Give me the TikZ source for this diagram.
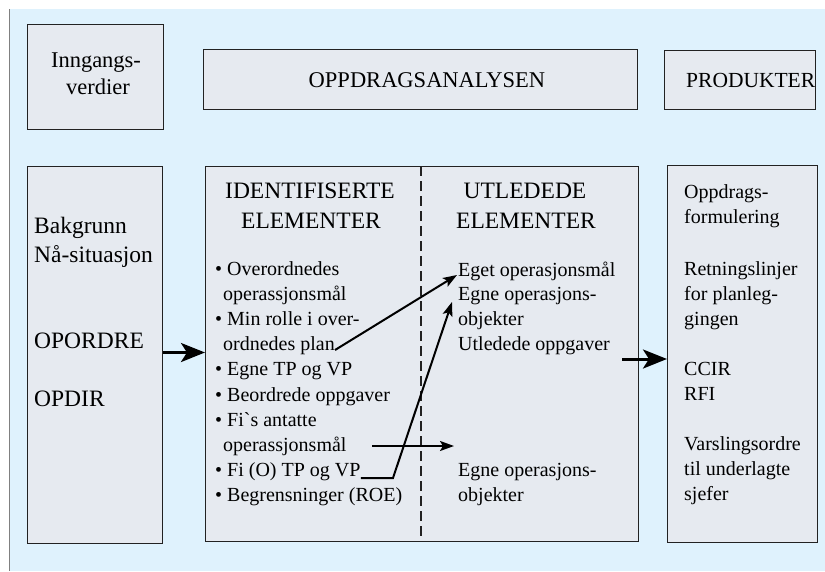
\documentclass[tikz,border=0pt]{standalone}
\usepackage{fontspec}
\setmainfont{Liberation Serif}
\usetikzlibrary{arrows.meta}
\definecolor{bgblue}{RGB}{223,242,253}
\definecolor{boxfill}{RGB}{230,234,240}
\definecolor{boxline}{RGB}{34,34,34}
\begin{document}
\begin{tikzpicture}[x=1pt,y=-1pt,
  box/.style={draw=boxline, fill=boxfill, line width=1.3pt, anchor=north west, inner sep=0pt},
  txt/.style={inner sep=0pt, anchor=base west, font=\fontsize{20}{24}\selectfont},
  bigtxt/.style={inner sep=0pt, anchor=base west, font=\fontsize{23.5}{27}\selectfont},
  headtxt/.style={inner sep=0pt, anchor=base, font=\fontsize{22.5}{27}\selectfont},
  coltxt/.style={inner sep=0pt, anchor=base, font=\fontsize{23.5}{27}\selectfont},
  divider/.style={draw=boxline, line width=1.5pt, dash pattern=on 10pt off 5pt},
  bigarrow/.style={line width=3pt, -{Stealth[length=24pt,width=19pt,inset=6pt]}},
  thinarrow/.style={line width=2pt, -{Stealth[length=14pt,width=10pt,inset=3pt]}}]
\useasboundingbox (0,0) rectangle (825,571);
\fill[white] (0,0) rectangle (825,571);
\fill[bgblue] (10,9) rectangle (825,571);
\draw[gray, line width=1pt] (9.5,9) -- (9.5,571);

% boxes
\node[box, minimum width=136pt, minimum height=105pt] (inn) at (27,24) {};
\node[box, minimum width=434pt, minimum height=60pt] (opp) at (203,49) {};
\node[box, minimum width=151pt, minimum height=59pt] (prod) at (664,50) {};
\node[box, minimum width=135pt, minimum height=377pt] (lbox) at (27,166) {};
\node[box, minimum width=433pt, minimum height=375pt] (mbox) at (205,166) {};
\node[box, minimum width=150pt, minimum height=377pt] (rbox) at (667,165) {};

\coordinate (dtop) at (421,166);
\coordinate (dbot) at (421,541);
\draw[divider] (dtop) -- (dbot);

% headings
\node[headtxt] (inn1) at (96,67) {Inngangs-};
\node[headtxt] (inn2) at (98,94) {verdier};
\node[headtxt] (opptxt) at (427,87) {OPPDRAGSANALYSEN};
\node[headtxt, anchor=base west, font=\fontsize{21.5}{26}\selectfont] (prodtxt) at (686,87) {PRODUKTER};
\node[coltxt] (id1) at (310,198) {IDENTIFISERTE};
\node[coltxt] (id2) at (311,228) {ELEMENTER};
\node[coltxt] (ut1) at (525,198) {UTLEDEDE};
\node[coltxt] (ut2) at (526,228) {ELEMENTER};

% left column
\node[bigtxt] (l1) at (34,233) {Bakgrunn};
\node[bigtxt] (l2) at (34,262) {Nå-situasjon};
\node[bigtxt] (l3) at (34,348) {OPORDRE};
\node[bigtxt] (l4) at (34,406) {OPDIR};

% identified elements
\node[txt] (b1) at (215,275) {\textbullet\ Overordnedes};
\node[txt] (b2) at (223,300) {operassjonsmål};
\node[txt] (b3) at (215,325) {\textbullet\ Min rolle i over-};
\node[txt] (b4) at (223,350) {ordnedes plan};
\node[txt] (b5) at (215,375.5) {\textbullet\ Egne TP og VP};
\node[txt] (b6) at (215,401) {\textbullet\ Beordrede oppgaver};
\node[txt] (b7) at (215,426) {\textbullet\ Fi\textasciigrave s antatte};
\node[txt] (b8) at (223,451) {operassjonsmål};
\node[txt] (b9) at (215,476) {\textbullet\ Fi (O) TP og VP};
\node[txt] (b10) at (215,501) {\textbullet\ Begrensninger (ROE)};

% derived elements
\node[txt] (u1) at (458,276) {Eget operasjonsmål};
\node[txt] (u2) at (458,300) {Egne operasjons-};
\node[txt] (u3) at (458,325) {objekter};
\node[txt] (u4) at (458,350) {Utledede oppgaver};
\node[txt] (u5) at (458,476) {Egne operasjons-};
\node[txt] (u6) at (458,501) {objekter};

% products
\node[txt] (r1) at (684,198) {Oppdrags-};
\node[txt] (r2) at (684,223) {formulering};
\node[txt] (r3) at (684,275) {Retningslinjer};
\node[txt] (r4) at (684,300) {for planleg-};
\node[txt] (r5) at (684,325) {gingen};
\node[txt] (r6) at (684,375) {CCIR};
\node[txt] (r7) at (684,400) {RFI};
\node[txt] (r8) at (684,450) {Varslingsordre};
\node[txt] (r9) at (684,475) {til underlagte};
\node[txt] (r10) at (684,500) {sjefer};

% thick arrows
\coordinate (la) at (162,352.5);
\draw[bigarrow] (lbox.east |- la) -- (mbox.west |- la);
\coordinate (ra) at (622,359);
\draw[bigarrow] (ra) -- (rbox.west |- ra);

% thin arrows
\draw[thinarrow] (b4.base east) -- ([xshift=-1pt,yshift=1pt]u1.base west);
\coordinate (bend) at (393,478);
\draw[thinarrow] (b9.base east |- bend) -- (bend) -- ([xshift=-6pt,yshift=-2pt]u2.base west);
\coordinate (a3s) at (372,446);
\coordinate (a3e) at (454,446);
\draw[thinarrow] (a3s) -- (a3e);
\end{tikzpicture}
\end{document}
